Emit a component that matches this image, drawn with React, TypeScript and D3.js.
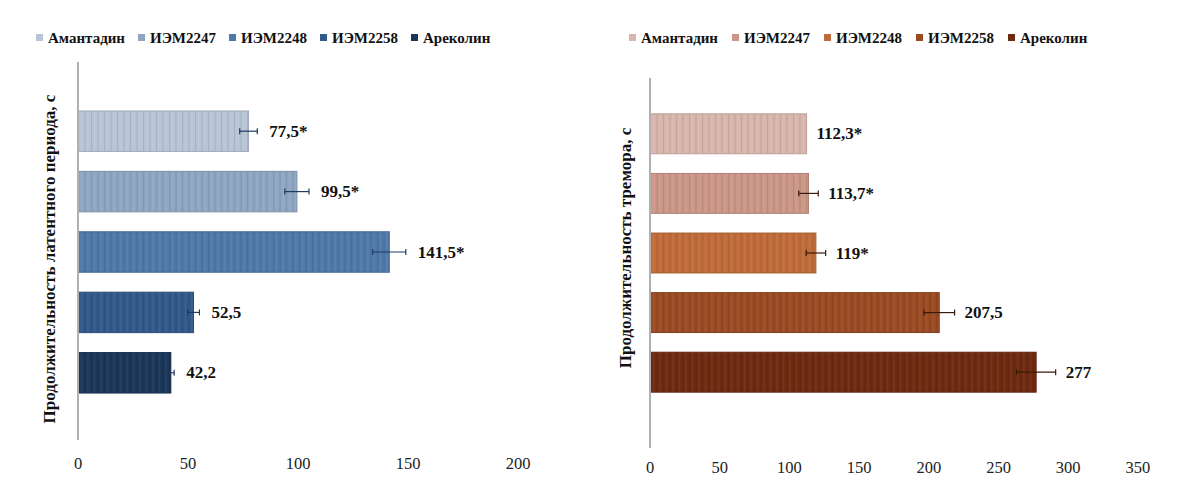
import React from "react";
import * as d3 from "d3";

// Groups (series) shared by both panels
const groups = ["Амантадин", "ИЭМ2247", "ИЭМ2248", "ИЭМ2258", "Ареколин"];

// Left panel: latent period duration, s
const latentValues = [77.5, 99.5, 141.5, 52.5, 42.2];
const latentErrors = [4, 5.5, 7.5, 2.7, 1.5];
const latentLabels = ["77,5*", "99,5*", "141,5*", "52,5", "42,2"];
const latentTicks = [0, 50, 100, 150, 200];
const latentColors = ["#b9c5d6", "#8fa6c2", "#4f79a9", "#31598a", "#1c3658"];

// Right panel: tremor duration, s
const tremorValues = [112.3, 113.7, 119, 207.5, 277];
const tremorErrors = [0, 7, 7, 11, 14];
const tremorLabels = ["112,3*", "113,7*", "119*", "207,5", "277"];
const tremorTicks = [0, 50, 100, 150, 200, 250, 300, 350];
const tremorColors = ["#d9b6ad", "#cc9788", "#c06c3a", "#9b4b23", "#6e2a10"];

const FONT = "'Liberation Serif', 'Times New Roman', serif";

function measure(text: string, font: string): number {
  const c = document.createElement("canvas").getContext("2d");
  if (!c) return text.length * 8;
  c.font = font;
  return c.measureText(text).width;
}

type PanelProps = {
  id: string;
  values: number[];
  errors: number[];
  labels: string[];
  ticks: number[];
  colors: string[];
  title: string;
  axisX: number;
  pxPerUnit: number;
  bandTop: number;
  bandBottom: number;
  axisTop: number;
  axisBottom: number;
  tickY: number;
  titleX: number;
  titleY: number;
  legendX: number;
  legendGap: number;
  labelGap: number;
  errColor: string;
};

function Panel(p: PanelProps) {
  const maxTick = p.ticks[p.ticks.length - 1];
  const x = d3
    .scaleLinear()
    .domain([0, maxTick])
    .range([p.axisX, p.axisX + p.pxPerUnit * maxTick]);
  const y = d3
    .scaleBand<string>()
    .domain(groups)
    .range([p.bandTop, p.bandBottom])
    .paddingInner(0.33)
    .paddingOuter(0.165);

  const legendFont = `bold 15px ${FONT}`;
  let lx = p.legendX;
  const legendItems = groups.map((g, i) => {
    const item = { g, x: lx, color: p.colors[i] };
    lx += 7 + 5 + measure(g, legendFont) + p.legendGap;
    return item;
  });

  return (
    <g>
      <defs>
        {p.colors.map((c, i) => (
          <pattern
            key={i}
            id={`${p.id}-stripe-${i}`}
            width={6.5}
            height={10}
            patternUnits="userSpaceOnUse"
          >
            <rect width={6.5} height={10} fill={c} />
            <rect x={0} width={1} height={10} fill="#000" opacity={0.1} />
            <rect x={3} width={1} height={10} fill="#fff" opacity={0.08} />
          </pattern>
        ))}
      </defs>

      {/* legend */}
      {legendItems.map((it) => (
        <g key={it.g}>
          <rect x={it.x} y={34} width={7} height={7} fill={it.color} />
          <text
            x={it.x + 12}
            y={38}
            dominantBaseline="central"
            fontFamily={FONT}
            fontWeight="bold"
            fontSize={15}
            fill="#111"
          >
            {it.g}
          </text>
        </g>
      ))}

      {/* bars */}
      {groups.map((g, i) => {
        const y0 = y(g) as number;
        const bw = y.bandwidth();
        const x1 = x(p.values[i]);
        return (
          <rect
            key={g}
            x={p.axisX}
            y={y0}
            width={x1 - p.axisX}
            height={bw}
            fill={`url(#${p.id}-stripe-${i})`}
            stroke={d3.color(p.colors[i])!.darker(0.4).formatHex()}
            strokeWidth={1}
          />
        );
      })}

      {/* error bars */}
      {groups.map((g, i) => {
        if (p.errors[i] <= 0) return null;
        const cy = (y(g) as number) + y.bandwidth() / 2;
        const a = x(p.values[i] - p.errors[i]);
        const b = x(p.values[i] + p.errors[i]);
        return (
          <g key={g} stroke={p.errColor} strokeWidth={1.2}>
            <line x1={a} x2={b} y1={cy} y2={cy} />
            <line x1={a} x2={a} y1={cy - 3} y2={cy + 3} />
            <line x1={b} x2={b} y1={cy - 3} y2={cy + 3} />
          </g>
        );
      })}

      {/* value labels */}
      {groups.map((g, i) => {
        const cy = (y(g) as number) + y.bandwidth() / 2;
        const end = x(p.values[i] + p.errors[i]);
        return (
          <text
            key={g}
            x={end + p.labelGap}
            y={cy}
            dominantBaseline="central"
            fontFamily={FONT}
            fontWeight="bold"
            fontSize={17}
            fill="#111"
          >
            {p.labels[i]}
          </text>
        );
      })}

      {/* category axis line */}
      <line
        x1={p.axisX}
        x2={p.axisX}
        y1={p.axisTop}
        y2={p.axisBottom}
        stroke="#b0b0b0"
        strokeWidth={2}
      />

      {/* value tick labels */}
      {p.ticks.map((t) => (
        <text
          key={t}
          x={x(t)}
          y={p.tickY}
          textAnchor="middle"
          dominantBaseline="central"
          fontFamily={FONT}
          fontSize={16.5}
          fill="#222"
        >
          {t}
        </text>
      ))}

      {/* axis title */}
      <text
        transform={`translate(${p.titleX},${p.titleY}) rotate(-90)`}
        textAnchor="middle"
        dominantBaseline="central"
        fontFamily={FONT}
        fontWeight="bold"
        fontSize={17}
        fill="#111"
      >
        {p.title}
      </text>
    </g>
  );
}

export default function App() {
  return (
    <svg
      width={1194}
      height={485}
      style={{ position: "absolute", left: 0, top: 0, background: "#fff" }}
    >
      <rect width={1194} height={485} fill="#fff" />
      <Panel
        id="lat"
        values={latentValues}
        errors={latentErrors}
        labels={latentLabels}
        ticks={latentTicks}
        colors={latentColors}
        title="Продолжительность латентного периода, с"
        axisX={78}
        pxPerUnit={2.2}
        bandTop={101}
        bandBottom={403}
        axisTop={62}
        axisBottom={440}
        tickY={463}
        titleX={49}
        titleY={259}
        legendX={36}
        legendGap={13}
        labelGap={12}
        errColor="#1f3a5f"
      />
      <Panel
        id="tre"
        values={tremorValues}
        errors={tremorErrors}
        labels={tremorLabels}
        ticks={tremorTicks}
        colors={tremorColors}
        title="Продолжительность тремора, с"
        axisX={650}
        pxPerUnit={1.394}
        bandTop={104}
        bandBottom={402}
        axisTop={78}
        axisBottom={448}
        tickY={467}
        titleX={625}
        titleY={248}
        legendX={629}
        legendGap={14}
        labelGap={10}
        errColor="#3a1a0a"
      />
    </svg>
  );
}
